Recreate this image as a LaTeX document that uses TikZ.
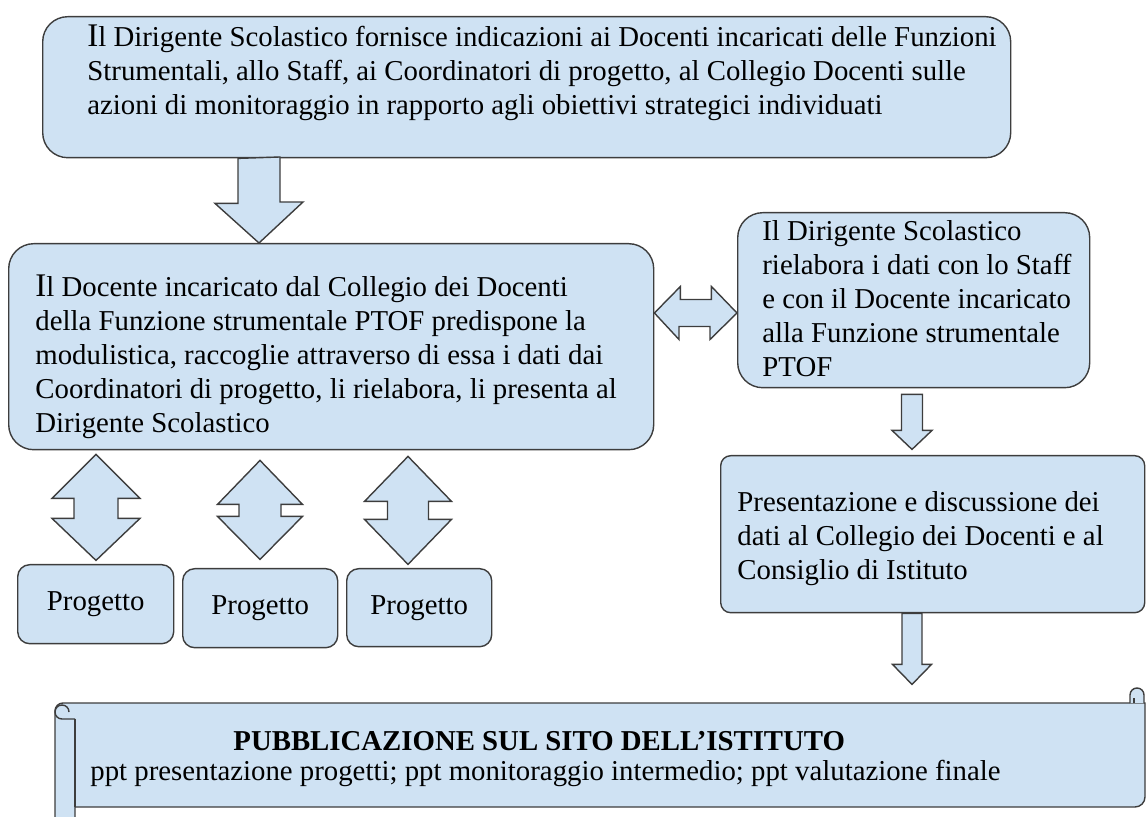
\documentclass[tikz,border=0pt]{standalone}
\usepackage{fontspec}
\setmainfont{Liberation Serif}

\definecolor{lightblue}{HTML}{CFE2F3}
\definecolor{boxedge}{HTML}{3D3D3D}

\newcommand{\bigI}{{\fontsize{16.5}{16.5}\selectfont I}}

\begin{document}
\begin{tikzpicture}[x=0.5pt, y=-0.5pt,
    box/.style={draw=boxedge, fill=lightblue, line width=0.7pt, anchor=north west, inner sep=0pt,
                font=\fontsize{14.4}{17}\selectfont},
    txt/.style={anchor=base west, inner sep=0pt, align=left, font=\fontsize{14.4}{17}\selectfont},
    blk/.style={draw=boxedge, fill=lightblue, line width=0.7pt, line join=miter}]
    \useasboundingbox (0,0) rectangle (1146,817);

    % boxes
    \node[box, rounded corners=12.5pt, minimum width=484pt, minimum height=70.5pt] (dirigente) at (42,16) {};
    \node[box, rounded corners=12.5pt, minimum width=322.5pt, minimum height=103pt] (docente) at (8,243) {};
    \node[box, rounded corners=12.5pt, minimum width=176pt, minimum height=87.5pt] (rielabora) at (737,212) {};
    \node[box, rounded corners=5pt, minimum width=212pt, minimum height=78.5pt] (presentazione) at (720,455) {};
    \node[box, rounded corners=6pt, minimum width=78pt, minimum height=39.5pt] (prog1) at (17,564) {Progetto};
    \node[box, rounded corners=6pt, minimum width=77.5pt, minimum height=39.5pt] (prog2) at (182,568) {\raisebox{-2pt}{Progetto}};
    \node[box, rounded corners=6pt, minimum width=72.5pt, minimum height=39pt] (prog3) at (346,568) {\raisebox{-1.5pt}{Progetto}};

    % texts (anchored at the baseline of their last line)
    \node[txt] (tdirigente) at (87,115) {\bigI l Dirigente Scolastico fornisce indicazioni ai Docenti incaricati delle Funzioni\\
        Strumentali, allo Staff, ai Coordinatori di progetto, al Collegio Docenti sulle\\
        azioni di monitoraggio in rapporto agli obiettivi strategici individuati};
    \node[txt] (tdocente) at (35,433) {\bigI l Docente incaricato dal Collegio dei Docenti\\
        della Funzione strumentale PTOF predispone la\\
        modulistica, raccoglie attraverso di essa i dati dai\\
        Coordinatori di progetto, li rielabora, li presenta al\\
        Dirigente Scolastico};
    \node[txt] (trielabora) at (762,377) {Il Dirigente Scolastico\\
        rielabora i dati con lo Staff\\
        e con il Docente incaricato\\
        alla Funzione strumentale\\
        PTOF};
    \node[txt] (tpresentazione) at (737,580) {Presentazione e discussione dei\\
        dati al Collegio dei Docenti e al\\
        Consiglio di Istituto};

    % block arrows
    \coordinate (c1) at (259,0);
    \coordinate (c2) at (0,313);
    \coordinate (c3) at (912,0);
    \coordinate (c4) at (96,0);
    \coordinate (c5) at (260,0);
    \coordinate (c6) at (408,0);
    \draw[blk] (c1 |- dirigente.south) ++(-21,0) -- ++(0,45) -- ++(-23,0) -- (c1 |- docente.north)
        -- ++(44,-41) -- ++(-23,0) -- ++(0,-45) -- cycle;
    \draw[blk] (docente.east |- c2) -- ++(26,-26.5) -- ++(0,13) -- ++(31,0) -- ++(0,-13) -- (rielabora.west |- c2)
        -- ++(-27,26.5) -- ++(0,-13) -- ++(-31,0) -- ++(0,13) -- cycle;
    \draw[blk] (c3 |- rielabora.south) ++(-10.5,6) -- ++(0,36) -- ++(-9.5,0) -- ++(20,19) -- ++(20,-19)
        -- ++(-9.5,0) -- ++(0,-36) -- cycle;
    \draw[blk] (c3 |- presentazione.south) ++(-10,0) -- ++(0,51) -- ++(-9.5,0) -- ++(19.5,20) -- ++(19.5,-20)
        -- ++(-9.5,0) -- ++(0,-51) -- cycle;
    \draw[blk] (c4 |- docente.south) ++(0,4) -- ++(44,44) -- ++(-22,0) -- ++(0,20) -- ++(22,0) -- ++(-44,42)
        -- ++(-44,-42) -- ++(22,0) -- ++(0,-20) -- ++(-22,0) -- cycle;
    \draw[blk] (c5 |- docente.south) ++(0,10) -- ++(42.5,44) -- ++(-21.5,0) -- ++(0,12) -- ++(21.5,0) -- ++(-42.5,43)
        -- ++(-42.5,-43) -- ++(21.5,0) -- ++(0,-12) -- ++(-21.5,0) -- cycle;
    \draw[blk] (c6 |- docente.south) ++(0,6) -- ++(43.5,45) -- ++(-23,0) -- ++(0,18) -- ++(23,0) -- ++(-43.5,45)
        -- ++(-43.5,-45) -- ++(23,0) -- ++(0,-18) -- ++(-23,0) -- cycle;

    % scroll
    \draw[blk] (55,830) -- (55,711) arc[start angle=180, end angle=90, radius=4pt] -- (1145,703)
        -- (1145,797) arc[start angle=0, end angle=-90, radius=5pt] -- (75,807) -- (75,830) -- cycle;
    \draw[boxedge, line width=0.7pt] (75,719) -- (75,807);
    \draw[boxedge, line width=0.7pt] (75,719) -- (62,719) arc[start angle=-90, end angle=-360, radius=3.5pt];
    \draw[blk] (1130,703) -- (1130,695) arc[start angle=180, end angle=0, radius=3.5pt] -- (1144,703);
    \draw[boxedge, line width=0.6pt] (1134,698) -- (1134,703);
    \node[txt, font=\fontsize{14.4}{17}\selectfont\bfseries] (ttitolo) at (233,750) {PUBBLICAZIONE SUL SITO DELL'ISTITUTO};
    \node[txt] (tppt) at (90,780) {ppt presentazione progetti; ppt monitoraggio intermedio; ppt valutazione finale};
\end{tikzpicture}
\end{document}
